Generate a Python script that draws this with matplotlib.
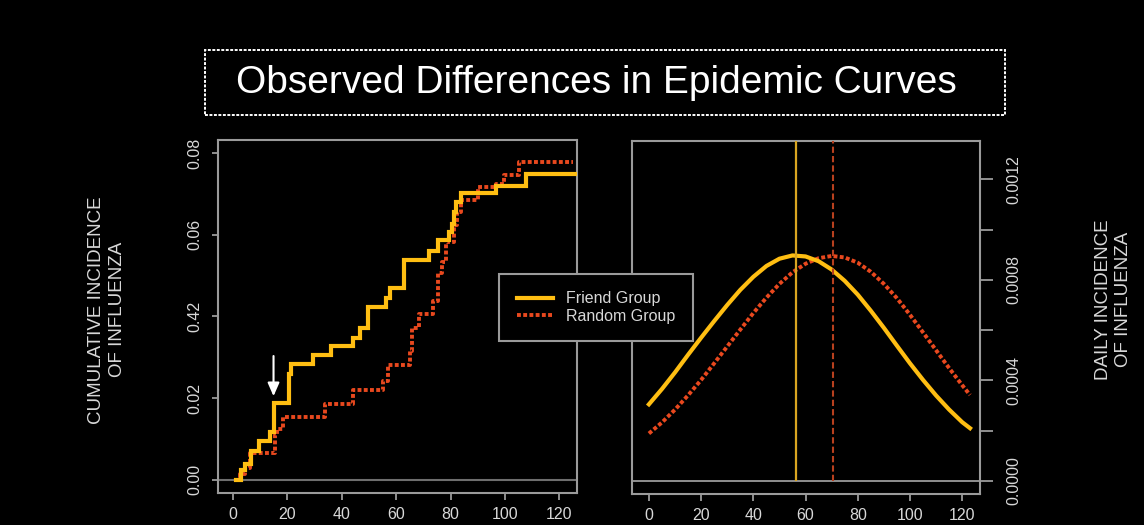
import matplotlib
matplotlib.use("Agg")
import matplotlib.pyplot as plt
from matplotlib.patches import Rectangle
from matplotlib.ticker import FixedLocator

plt.rcParams["font.family"] = ["Liberation Sans", "DejaVu Sans"]

# --- donnees ---
# incidence cumulee (escaliers)
friend_day = [1, 3, 4.5, 6.7, 9.5, 13.5, 14.9, 20.5, 21.5, 29.5, 36, 44, 46.6,
              49.6, 56.3, 57.6, 63, 72.2, 75.2, 79.5, 80.4, 81.3, 82, 84,
              96.6, 107.6, 126]
friend_cum = [0, 0.0024, 0.004, 0.007, 0.0095, 0.0117, 0.0188, 0.026, 0.0283,
              0.0306, 0.0328, 0.0348, 0.0372, 0.0423, 0.0445, 0.047, 0.0538,
              0.056, 0.0587, 0.0607, 0.0627, 0.0656, 0.068, 0.0703, 0.072,
              0.0749, 0.0749]

random_day = [1, 2.5, 4.5, 6.3, 15.5, 16.3, 18.5, 33.8, 44, 55, 57, 65, 66,
              68.5, 73.4, 75.2, 77, 78.3, 81.3, 82.5, 83.8, 90, 96.6, 99.6,
              105, 125]
random_cum = [0, 0.0015, 0.003, 0.0065, 0.011, 0.0125, 0.0155, 0.0186, 0.0219,
              0.0243, 0.028, 0.0316, 0.0372, 0.0405, 0.0437, 0.0506, 0.0534,
              0.0583, 0.0623, 0.0656, 0.0684, 0.0717, 0.0725, 0.0747, 0.0779,
              0.0779]

# incidence journaliere (courbes lissees)
daily_day = [0, 5, 10, 15, 20, 25, 30, 35, 40, 45, 50, 55, 60, 65, 70, 75, 80,
             85, 90, 95, 100, 105, 110, 115, 120, 123]
friend_daily = [0.000305, 0.000366, 0.000432, 0.000502, 0.000570, 0.000636,
                0.000700, 0.000760, 0.000812, 0.000855, 0.000884, 0.000897,
                0.000893, 0.000874, 0.000841, 0.000796, 0.000741, 0.000677,
                0.000609, 0.000538, 0.000468, 0.000402, 0.000340, 0.000284,
                0.000234, 0.000210]
random_daily = [0.000189, 0.000233, 0.000284, 0.000341, 0.000402, 0.000468,
                0.000535, 0.000602, 0.000668, 0.000729, 0.000784, 0.000830,
                0.000864, 0.000886, 0.000895, 0.000889, 0.000868, 0.000832,
                0.000784, 0.000727, 0.000661, 0.000591, 0.000520, 0.000449,
                0.000381, 0.000342]
friend_peak = 56.3
random_peak = 70.5

arrow_day = 14.9
left_yticks = [0.00, 0.02, 0.04, 0.06, 0.08]
left_ylabels = ["0.00", "0.02", "0.42", "0.06", "0.08"]
right_yticks = [0.0, 0.0004, 0.0008, 0.0012]
right_ylabels = ["0.0000", "0.0004", "0.0008", "0.0012"]
x_ticks = [0, 20, 40, 60, 80, 100, 120]

YELLOW = "#FFBE12"
RED = "#E8481E"
GREY = "#9a9a9a"
TXT = "#d8d8d8"

fig = plt.figure(figsize=(11.44, 5.25), dpi=100, facecolor="black")

ax1 = fig.add_axes([0.1906, 0.061, 0.3138, 0.6724], facecolor="black")
ax2 = fig.add_axes([0.5524, 0.059, 0.3042, 0.6724], facecolor="black")

for ax in (ax1, ax2):
    for s in ax.spines.values():
        s.set_color(GREY)
        s.set_linewidth(1.5)
    ax.set_xlim(-5.5, 126.5)
    ax.set_xticks(x_ticks)
    ax.tick_params(axis="x", colors=GREY, labelcolor=TXT, labelsize=11.5,
                   length=5, width=1.3, pad=5)

# --- panneau gauche ---
ax1.axhline(0, color="#6e6e6e", lw=1.5, zorder=1)
l1, = ax1.plot(friend_day, friend_cum, drawstyle="steps-post", color=YELLOW,
               lw=3, solid_joinstyle="miter", label="Friend Group", zorder=3)
l2, = ax1.plot(random_day, random_cum, drawstyle="steps-post", color=RED,
               lw=2.8, ls=(0, (1, 0.6)), label="Random Group", zorder=2)
ax1.annotate("", xy=(arrow_day, 0.0198), xytext=(arrow_day, 0.0310),
             arrowprops=dict(arrowstyle="-|>,head_width=0.35,head_length=0.8",
                             color="white", lw=1.5))
ax1.set_ylim(-0.0032, 0.0832)
ax1.set_yticks(left_yticks)
ax1.set_yticklabels(left_ylabels, rotation=90, va="center")
ax1.tick_params(axis="y", colors=GREY, labelcolor=TXT, labelsize=11.5,
                length=4, width=1.3, pad=7)

# --- panneau droit ---
ax2.set_xlim(-6.5, 126.8)
ymax2 = 0.001352
ax2.axhline(0, color=GREY, lw=1.3, zorder=1)
ax2.plot(daily_day, friend_daily, color=YELLOW, lw=3, zorder=3)
ax2.plot(daily_day, random_daily, color=RED, lw=2.8, ls=(0, (1, 0.6)), zorder=2)
ax2.vlines(friend_peak, 0, ymax2, color="#D9A521", lw=1.6, zorder=4)
ax2.vlines(random_peak, 0, ymax2, color="#B8401E", lw=1.5,
           linestyles=[(0, (3, 1.5))], zorder=4)
ax2.set_ylim(-0.0000517, ymax2)
ax2.yaxis.tick_right()
ax2.set_yticks(right_yticks)
ax2.set_yticklabels(right_ylabels, rotation=90, va="center")
ax2.yaxis.set_minor_locator(FixedLocator([0.0002, 0.0006, 0.0010]))
ax2.tick_params(axis="y", which="both", colors=GREY, labelcolor=TXT,
                labelsize=11.5, length=9, width=1.3, pad=10)
ax2.tick_params(axis="y", which="minor", labelright=False)

# --- etiquettes ---
fig.text(0.0935, 0.41, "CUMULATIVE INCIDENCE\nOF INFLUENZA", rotation=90,
         ha="center", va="center", multialignment="center", color=TXT,
         fontsize=13.5, linespacing=1.25)
fig.text(0.9735, 0.43, "DAILY INCIDENCE\nOF INFLUENZA", rotation=90,
         ha="center", va="center", multialignment="center", color=TXT,
         fontsize=13.5, linespacing=1.25)

leg = fig.legend(handles=[l1, l2], loc="center",
                 bbox_to_anchor=(0.521, 0.4143), facecolor="black",
                 edgecolor=GREY, framealpha=1, fancybox=False, fontsize=11.5,
                 handlelength=2.3, handletextpad=0.8, borderpad=1.1,
                 borderaxespad=0, labelspacing=0.15)
leg.get_frame().set_linewidth(1.5)
for t in leg.get_texts():
    t.set_color(TXT)

# --- titre encadre ---
fig.patches.append(Rectangle((0.1792, 0.781), 0.6993, 0.1238,
                             transform=fig.transFigure, fill=False,
                             edgecolor="white", lw=1.4, ls=(0, (1.5, 0.8))))
fig.text(0.5214, 0.842, "Observed Differences in Epidemic Curves",
         ha="center", va="center", color="white", fontsize=28)

fig.savefig("out.png", dpi=100, facecolor="black")
